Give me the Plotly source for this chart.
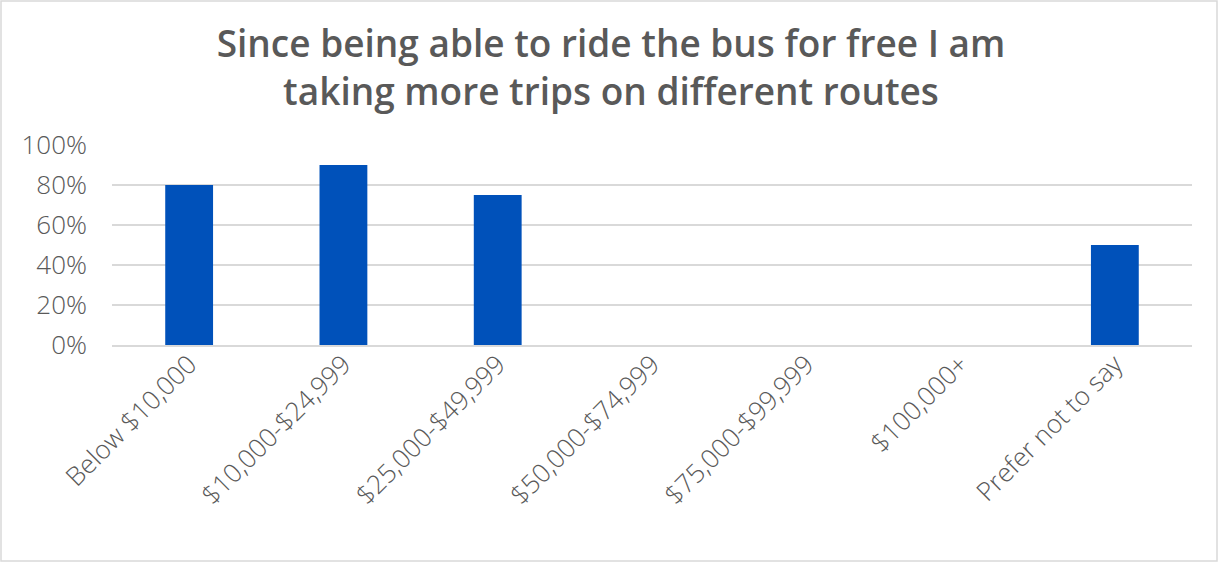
import plotly.graph_objects as go

# Income brackets and share of respondents agreeing
categories = [
    "Below $10,000",
    "$10,000-$24,999",
    "$25,000-$49,999",
    "$50,000-$74,999",
    "$75,000-$99,999",
    "$100,000+",
    "Prefer not to say",
]
shares = [0.80, 0.90, 0.75, 0.0, 0.0, 0.0, 0.50]
y_ticks = [0, 0.2, 0.4, 0.6, 0.8, 1.0]
y_tick_labels = ["0%", "20%", "40%", "60%", "80%", "100%"]
title_text = "Since being able to ride the bus for free I am<br>taking more trips on different routes"

W, H = 1222, 564
ML, MR, MT, MB = 112, 30, 145, 219

text_color = "#595959"
grid_color = "#d9d9d9"
bar_color = "#0051BA"

fig = go.Figure(
    go.Bar(
        x=categories,
        y=shares,
        marker=dict(color=bar_color, line=dict(width=0)),
        hoverinfo="skip",
    )
)

pw = W - ML - MR
ph = H - MT - MB


def px_to_paper_x(px):
    return (px - ML) / pw


def px_to_paper_y(py):
    return (H - MB - py) / ph


fig.update_layout(
    width=W,
    height=H,
    margin=dict(l=ML, r=MR, t=MT, b=MB),
    paper_bgcolor="white",
    plot_bgcolor="white",
    bargap=0.69,
    showlegend=False,
    font=dict(family="Open Sans, sans-serif", color=text_color),
    title=dict(
        text=title_text,
        x=0.5,
        xanchor="center",
        xref="container",
        y=1 - 57 / H,
        yanchor="middle",
        yref="container",
        font=dict(family="Open Sans, sans-serif", size=37, weight=600, color=text_color),
    ),
    xaxis=dict(
        tickangle=-45,
        tickfont=dict(size=26, weight=300, color=text_color),
        showgrid=False,
        showline=True,
        linecolor=grid_color,
        linewidth=1.5,
        ticks="",
        ticklabelstandoff=-8,
        fixedrange=True,
    ),
    yaxis=dict(
        range=[0, 1.0],
        tickvals=y_ticks,
        ticktext=y_tick_labels,
        tickfont=dict(size=26, weight=300, color=text_color),
        showgrid=True,
        gridcolor=grid_color,
        gridwidth=1.5,
        zeroline=False,
        showline=False,
        ticks="",
        ticklabelstandoff=24,
        fixedrange=True,
    ),
    shapes=[
        dict(
            type="rect",
            xref="paper",
            yref="paper",
            x0=px_to_paper_x(1),
            x1=px_to_paper_x(1217),
            y0=px_to_paper_y(561),
            y1=px_to_paper_y(1),
            line=dict(color=grid_color, width=1.5),
            fillcolor="rgba(0,0,0,0)",
            layer="below",
        )
    ],
)

fig.write_html("out.html", config={"displayModeBar": False})
